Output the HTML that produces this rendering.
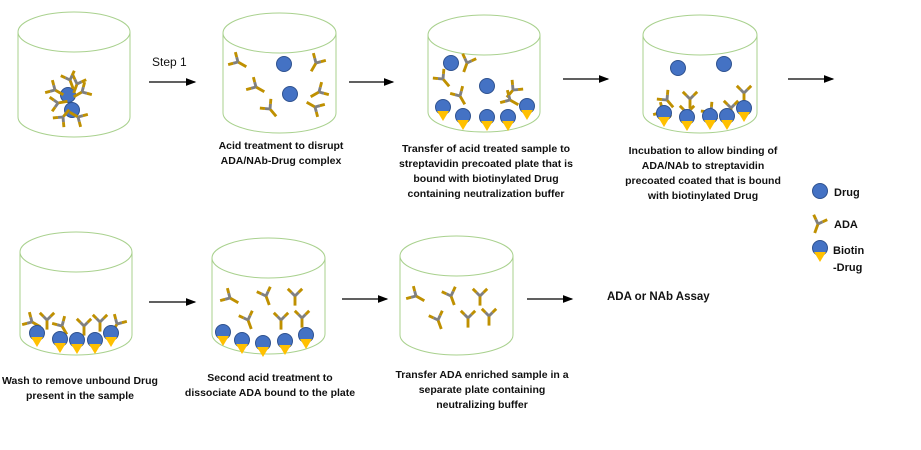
<!DOCTYPE html>
<html><head><meta charset="utf-8"><style>
html,body{margin:0;padding:0;background:#fff;}
svg{display:block;font-family:"Liberation Sans",sans-serif;}
text{font-size:10.5px;fill:#111;font-weight:bold;}
</style></head><body>
<svg id="s" width="921" height="450" viewBox="0 0 921 450" xmlns="http://www.w3.org/2000/svg">
<defs><marker id="ah" markerWidth="8" markerHeight="8" refX="7" refY="4" orient="auto"><path d="M0,1 L8,4 L0,7 z" fill="#000"/></marker></defs>
<g id="g"></g>
<g stroke="#000" stroke-width="1.3" marker-end="url(#ah)">
<line x1="149" y1="82" x2="195" y2="82"/>
<line x1="349" y1="82" x2="393" y2="82"/>
<line x1="563" y1="79" x2="608" y2="79"/>
<line x1="788" y1="79" x2="833" y2="79"/>
<line x1="149" y1="302" x2="195" y2="302"/>
<line x1="342" y1="299" x2="387" y2="299"/>
<line x1="527" y1="299" x2="572" y2="299"/>
</g>
<text x="152" y="66" style="font-weight:normal;font-size:12px">Step 1</text>
<g text-anchor="middle">
<text x="281" y="149">Acid treatment to disrupt</text>
<text x="281" y="164">ADA/NAb-Drug complex</text>
<text x="486" y="152">Transfer of acid treated sample to</text>
<text x="486" y="167">streptavidin precoated plate that is</text>
<text x="486" y="182">bound with biotinylated Drug</text>
<text x="486" y="197">containing neutralization buffer</text>
<text x="703" y="154">Incubation to allow binding of</text>
<text x="703" y="169">ADA/NAb to streptavidin</text>
<text x="703" y="184">precoated coated that is bound</text>
<text x="703" y="199">with biotinylated Drug</text>
<text x="80" y="384">Wash to remove unbound Drug</text>
<text x="80" y="399">present in the sample</text>
<text x="270" y="381">Second acid treatment to</text>
<text x="270" y="396">dissociate ADA bound to the plate</text>
<text x="482" y="378">Transfer ADA enriched sample in a</text>
<text x="482" y="393">separate plate containing</text>
<text x="482" y="408">neutralizing buffer</text>
</g>
<text x="607" y="300" style="font-size:11.5px">ADA or NAb Assay</text>
<text x="834" y="196" style="font-size:11px">Drug</text>
<text x="834" y="228" style="font-size:11px">ADA</text>
<text x="833" y="254" style="font-size:11px">Biotin</text>
<text x="833" y="271" style="font-size:11px">-Drug</text>
</svg>
<script>
var g=document.getElementById('g'),h='';
function cyl(x1,x2,top,bot){var cx=(x1+x2)/2,rx=(x2-x1)/2,ry=20,cy=top+ry,by=bot-ry;
h+='<ellipse cx="'+cx+'" cy="'+cy+'" rx="'+rx+'" ry="'+ry+'" fill="none" stroke="#a9d18e" stroke-width="1"/>';
h+='<path d="M'+x1+','+cy+' L'+x1+','+by+' A'+rx+','+ry+' 0 0 0 '+x2+','+by+' L'+x2+','+cy+'" fill="none" stroke="#a9d18e" stroke-width="1"/>';}
function drug(x,y){h+='<circle cx="'+x+'" cy="'+y+'" r="7.5" fill="#4472c4" stroke="#2f528f" stroke-width="1"/>';}
function bd(x,y){drug(x,y);h+='<path d="M'+(x-6)+','+(y+4)+' L'+(x+6)+','+(y+4)+' L'+x+','+(y+14)+' z" fill="#ffc000"/>';}
function ada(x,y,a){h+='<g transform="translate('+x+','+y+') rotate('+a+') scale(1.2)" stroke-width="2.4" stroke-linecap="butt">'+
'<line x1="0" y1="0" x2="0" y2="8" stroke="#bf9000"/>'+
'<line x1="0" y1="0" x2="-3" y2="-3" stroke="#808080"/><line x1="-3" y1="-3" x2="-6" y2="-6" stroke="#bf9000"/>'+
'<line x1="0" y1="0" x2="3" y2="-3" stroke="#808080"/><line x1="3" y1="-3" x2="6" y2="-6" stroke="#bf9000"/></g>';}
cyl(18,130,12,137);cyl(223,336,13,133);cyl(428,540,15,132);cyl(643,757,15,133);
cyl(20,132,232,355);cyl(212,325,238,354);cyl(400,513,236,355);
drug(68,95);drug(72,110);ada(55,90,-60);ada(77,84,20);ada(82,92,60);ada(58,103,-100);ada(78,117,120);ada(63,117,-140);ada(70,80,-20);
drug(284,64);drug(290,94);ada(238,62,-60);ada(316,63,30);ada(256,87,-60);ada(319,92,60);ada(270,109,-40);ada(315,107,120);
drug(451,63);drug(487,86);ada(443,79,-40);ada(467,63,20);ada(460,96,-30);ada(513,90,40);ada(510,100,-60);
bd(443,107);bd(463,116);bd(487,117);bd(508,117);bd(527,106);
drug(678,68);drug(724,64);
[[663,112,-60],[687,113,0],[711,112,-40],[690,99,0],[731,108,0],[744,93,0],[667,100,-40]].forEach(function(p){ada(p[0],p[1],p[2]);});
bd(664,113);bd(687,117);bd(710,116);bd(727,116);bd(744,108);
[[32,322,-60],[47,320,0],[62,326,-30],[84,326,0],[100,322,0],[117,324,30]].forEach(function(p){ada(p[0],p[1],p[2]);});
bd(37,333);bd(60,339);bd(77,340);bd(95,340);bd(111,333);
[[230,298,-60],[266,296,-20],[295,296,0],[248,320,-20],[281,320,0],[302,318,0]].forEach(function(p){ada(p[0],p[1],p[2]);});
bd(223,332);bd(242,340);bd(263,343);bd(285,341);bd(306,335);
[[416,296,-60],[451,296,-20],[480,296,0],[438,320,-20],[468,318,0],[489,316,0]].forEach(function(p){ada(p[0],p[1],p[2]);});
drug(820,191);ada(818,224,20);bd(820,248);
g.innerHTML=h;
</script>
</body></html>
